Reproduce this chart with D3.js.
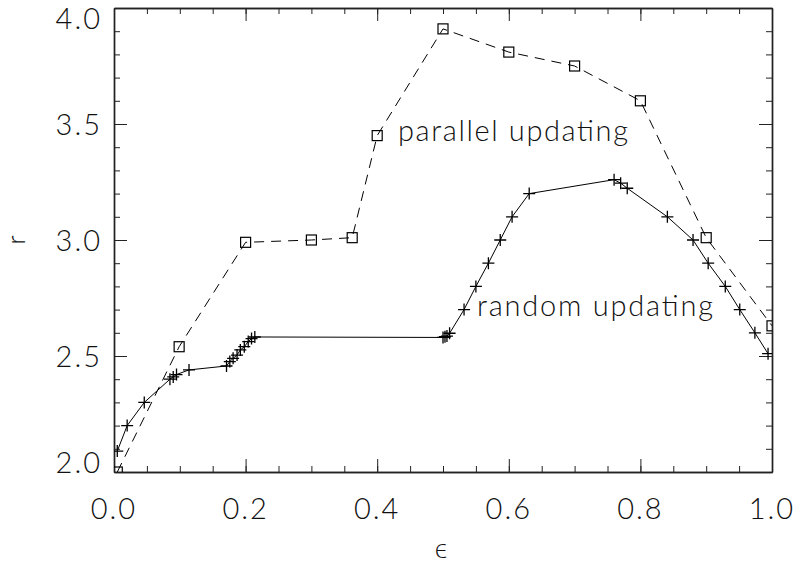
<!DOCTYPE html>
<html><head><meta charset="utf-8">
<script src="https://cdn.jsdelivr.net/npm/d3@7"></script>
<style>
html,body{margin:0;padding:0;background:#fff;}
text{font-family:"Lato",sans-serif;font-weight:300;fill:#111;}
</style></head>
<body>
<svg id="c" width="798" height="563"></svg>
<script>
// parallel updating (squares, dashed)
const parallelEps = [0.005, 0.099, 0.200, 0.300, 0.362, 0.400, 0.500, 0.600, 0.700, 0.800, 0.900, 1.000];
const parallelR   = [2.00, 2.54, 2.99, 3.00, 3.01, 3.45, 3.91, 3.81, 3.75, 3.60, 3.01, 2.63];
// random updating (plus, solid)
const randomEps = [0.005, 0.020, 0.046, 0.085, 0.090, 0.095, 0.114,
  0.171, 0.176, 0.181, 0.187, 0.192, 0.198, 0.204, 0.209, 0.214,
  0.500, 0.503, 0.506, 0.510, 0.532, 0.550, 0.569, 0.587, 0.605, 0.631,
  0.760, 0.770, 0.780, 0.841, 0.880, 0.903, 0.929, 0.951, 0.974, 0.994];
const randomR = [2.09, 2.20, 2.30, 2.40, 2.41, 2.42, 2.44,
  2.457, 2.476, 2.490, 2.504, 2.526, 2.540, 2.562, 2.575, 2.582,
  2.580, 2.583, 2.586, 2.598, 2.70, 2.80, 2.90, 3.00, 3.10, 3.20,
  3.26, 3.245, 3.223, 3.10, 3.00, 2.90, 2.80, 2.70, 2.60, 2.51];
const xTicks = [0.0, 0.2, 0.4, 0.6, 0.8, 1.0];
const xTickLabels = ["0.0", "0.2", "0.4", "0.6", "0.8", "1.0"];
const yTicks = [2.0, 2.5, 3.0, 3.5, 4.0];
const yTickLabels = ["2.0", "2.5", "3.0", "3.5", "4.0"];
const xMinor = d3.range(0, 21).map(i => i * 0.05);
const yMinor = d3.range(0, 21).map(i => 2 + i * 0.1);
const labels = ["parallel updating", "random updating"];

const W = 798, H = 563;
const m = {left: 114, right: 26, top: 8, bottom: 91};
const svg = d3.select("#c");
const x = d3.scaleLinear().domain([0, 1]).range([m.left, W - m.right]);
const y = d3.scaleLinear().domain([2, 4]).range([H - m.bottom, m.top]);

svg.append("clipPath").attr("id", "clip").append("rect")
  .attr("x", m.left).attr("y", m.top).attr("width", x(1) - x(0)).attr("height", y(2) - y(4));

function noLab(a){ return a.tickFormat(""); }
const gB = svg.append("g").attr("transform", `translate(0,${y(2)})`);
gB.call(noLab(d3.axisBottom(x).tickValues(xMinor).tickSize(-6).tickSizeOuter(0)));
gB.append("g").call(noLab(d3.axisBottom(x).tickValues(xTicks).tickSize(-13).tickSizeOuter(0)));
const gT = svg.append("g").attr("transform", `translate(0,${y(4)})`);
gT.call(noLab(d3.axisTop(x).tickValues(xMinor).tickSize(-6).tickSizeOuter(0)));
gT.append("g").call(noLab(d3.axisTop(x).tickValues(xTicks).tickSize(-13).tickSizeOuter(0)));
const gL = svg.append("g").attr("transform", `translate(${x(0)},0)`);
gL.call(noLab(d3.axisLeft(y).tickValues(yMinor).tickSize(-6).tickSizeOuter(0)));
gL.append("g").call(noLab(d3.axisLeft(y).tickValues(yTicks).tickSize(-13).tickSizeOuter(0)));
const gR = svg.append("g").attr("transform", `translate(${x(1)},0)`);
gR.call(noLab(d3.axisRight(y).tickValues(yMinor).tickSize(-6).tickSizeOuter(0)));
gR.append("g").call(noLab(d3.axisRight(y).tickValues(yTicks).tickSize(-13).tickSizeOuter(0)));
svg.selectAll(".domain").attr("stroke", "#222").attr("stroke-width", 1.4);
svg.selectAll(".tick line").attr("stroke", "#222").attr("stroke-width", 1);

// tick labels
svg.selectAll(".xl").data(xTicks).enter().append("text")
  .attr("x", d => x(d)).attr("y", 519).attr("text-anchor", "middle")
  .attr("font-size", 29).attr("letter-spacing", 2).text((d, i) => xTickLabels[i]);
svg.selectAll(".yl").data(yTicks).enter().append("text")
  .attr("x", 102).attr("y", d => {
    let yy = y(d) + 11;
    if (d === 4) yy = y(d) + 21;
    if (d === 2) yy = y(d) + 1;
    return yy;
  }).attr("text-anchor", "end")
  .attr("font-size", 29).attr("letter-spacing", 2).text((d, i) => yTickLabels[i]);
svg.append("text").attr("x", 441).attr("y", 558).attr("text-anchor", "middle")
  .attr("font-size", 27).text("ϵ");
svg.append("text").attr("transform", `translate(25,240) rotate(-90)`).attr("text-anchor", "middle")
  .attr("font-size", 26).text("r");

const plot = svg.append("g").attr("clip-path", "url(#clip)");
const pData = parallelEps.map((e, i) => [e, parallelR[i]]);
const rData = randomEps.map((e, i) => [e, randomR[i]]);
const line = d3.line().x(d => x(d[0])).y(d => y(d[1]));

plot.append("path").datum(pData).attr("d", line).attr("fill", "none")
  .attr("stroke", "#000").attr("stroke-width", 1).attr("stroke-dasharray", "10,7");
plot.selectAll(".sq").data(pData).enter().append("rect")
  .attr("x", d => x(d[0]) - 5).attr("y", d => y(d[1]) - 5).attr("width", 10).attr("height", 10)
  .attr("fill", "none").attr("stroke", "#000").attr("stroke-width", 1.2);

plot.append("path").datum(rData).attr("d", line).attr("fill", "none")
  .attr("stroke", "#000").attr("stroke-width", 1);
plot.selectAll(".pl").data(rData).enter().append("path")
  .attr("d", d => `M${x(d[0]) - 6},${y(d[1])}h12M${x(d[0])},${y(d[1]) - 6}v12`)
  .attr("stroke", "#000").attr("stroke-width", 1.3);

// annotations
svg.append("text").attr("x", 398).attr("y", 141).attr("font-size", 29)
  .attr("textLength", 230).attr("lengthAdjust", "spacing").text(labels[0]);
svg.append("text").attr("x", 477).attr("y", 316).attr("font-size", 29)
  .attr("textLength", 236).attr("lengthAdjust", "spacing").text(labels[1]);
</script>
</body></html>
